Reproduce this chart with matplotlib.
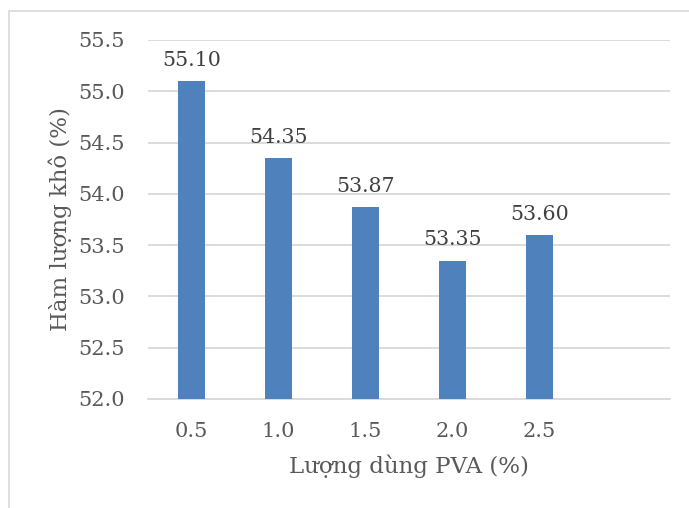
import matplotlib.pyplot as plt
from matplotlib.patches import Rectangle

# Lượng dùng PVA (%) và hàm lượng khô tương ứng
pva_levels = ["0.5", "1.0", "1.5", "2.0", "2.5"]
dry_content = [55.10, 54.35, 53.87, 53.35, 53.60]

plt.rcParams['font.family'] = ['DejaVu Serif']
text_color = "#595959"
grid_color = "#d9d9d9"

fig = plt.figure(figsize=(6.89, 5.08), dpi=100)
ax = fig.add_axes([0.2148, 0.2146, 0.757, 0.7067])

# khung viền của biểu đồ
fig.patches.append(Rectangle((8.5 / 689, -0.1), 1.0, 1.1 - 11.5 / 508,
                             transform=fig.transFigure, fill=False,
                             edgecolor=grid_color, linewidth=1.2))

x = list(range(len(pva_levels)))
bars = ax.bar(x, dry_content, width=0.31, color="#4f81bd", zorder=3)
for b, v in zip(bars, dry_content):
    ax.text(b.get_x() + b.get_width() / 2, v + 0.11, f"{v:.2f}",
            ha="center", va="bottom", fontsize=14.8, color="#404040")

ax.set_xlim(-0.5, 5.5)
ax.set_ylim(52.0, 55.5)
ax.set_yticks([52.0, 52.5, 53.0, 53.5, 54.0, 54.5, 55.0, 55.5])
ax.set_yticklabels([f"{t:.1f}" for t in ax.get_yticks()])
ax.set_xticks(x)
ax.set_xticklabels(pva_levels)
ax.tick_params(axis="both", length=0, labelsize=15, colors=text_color)
ax.tick_params(axis="x", pad=16.5)
ax.tick_params(axis="y", pad=16.5)

ax.grid(axis="y", color=grid_color, linewidth=1.3, zorder=0)
for s in ["top", "right", "left"]:
    ax.spines[s].set_visible(False)
ax.spines["bottom"].set_color(grid_color)
ax.spines["bottom"].set_linewidth(1.3)

ax.set_xlabel("Lượng dùng PVA (%)", fontsize=16.5, color=text_color, labelpad=10)
ax.set_ylabel("Hàm lượng khô (%)", fontsize=16.5, color=text_color)
ax.yaxis.set_label_coords(-0.146, 0.5)

fig.savefig("out.png", dpi=100)
